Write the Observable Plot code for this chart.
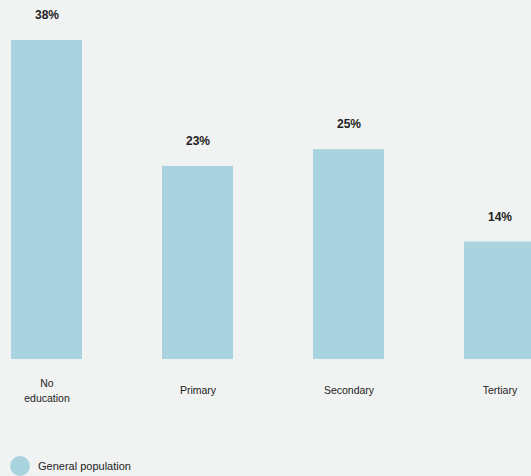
<!DOCTYPE html>
<html>
<head>
<meta charset="utf-8">
<script src="https://cdn.jsdelivr.net/npm/d3@7"></script>
<script src="https://cdn.jsdelivr.net/npm/@observablehq/plot@0.6"></script>
<style>
  html, body { margin: 0; padding: 0; background: #f1f2f2; }
  body { width: 531px; height: 476px; overflow: hidden; font-family: "Liberation Sans", Arial, sans-serif; }
  #legend { display: flex; align-items: center; margin-left: 10px; margin-top: 16px; font-size: 11px; color: #222; }
  #legend .sw { width: 20px; height: 20px; border-radius: 50%; background: #a9d4df; margin-right: 8px; }
</style>
</head>
<body>
<div id="chart"></div>
<div id="legend"><span class="sw"></span><span>General population</span></div>
<script>
const categories = ["No\neducation", "Primary", "Secondary", "Tertiary"];
const values = [38, 23, 25, 14];
const seriesName = "General population";

const data = categories.map((c, i) => ({category: c, value: values[i]}));

const chart = Plot.plot({
  width: 531,
  height: 440,
  style: {background: "transparent", fontFamily: "Liberation Sans, Arial, sans-serif", color: "#222"},
  x: {domain: categories, range: [10, 535], paddingInner: 0.53, paddingOuter: 0, axis: null},
  y: {domain: [0, 38], range: [359, 40], axis: null},
  marks: [
    Plot.barY(data, {x: "category", y: "value", fill: "#a9d4df"}),
    Plot.text(data, {x: "category", y: "value", text: d => d.value + "%", dy: -25, fontSize: 12, fontWeight: "bold", fill: "#222"}),
    Plot.text(data, {x: "category", y: () => 0, text: "category", dy: 30, fontSize: 10.5, lineHeight: 1.45, fill: "#222"})
  ]
});
document.getElementById("chart").appendChild(chart);
document.getElementById("legend").children[1].textContent = seriesName;
</script>
</body>
</html>
